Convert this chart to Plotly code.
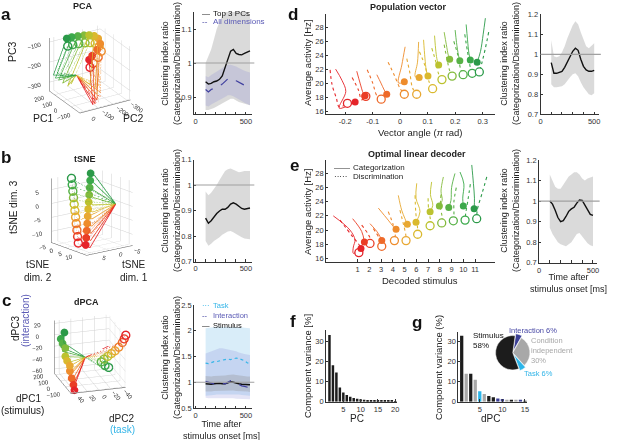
import plotly.graph_objects as go

FONT = "Liberation Sans, Arial, sans-serif"
W, H = 617, 440

# ---------------- data ----------------
stim_colors = ['#e5242a', '#ea3d26', '#ee6a2a', '#ee8c2c', '#e8a832', '#dab92e',
               '#bcc22f', '#84bb3d', '#57b147', '#3ba94b', '#2b9a49']

# ratio time courses
t_abc = [100, 128, 155, 183, 210, 238, 265, 293, 320, 348, 375, 403, 430, 458, 485, 513, 540]
a_top3 = [0.945, 0.938, 0.940, 0.945, 0.947, 0.952, 0.962, 0.985, 1.012, 1.035, 1.040, 1.028, 1.025, 1.024, 1.028, 1.032, 1.036]
a_top3_lo = [0.862, 0.862, 0.865, 0.868, 0.872, 0.876, 0.880, 0.885, 0.890, 0.895, 0.895, 0.890, 0.885, 0.882, 0.880, 0.878, 0.876]
a_top3_hi = [1.000, 1.020, 1.040, 1.070, 1.100, 1.120, 1.140, 1.150, 1.150, 1.150, 1.150, 1.150, 1.150, 1.150, 1.150, 1.150, 1.140]
a_all = [0.922, 0.915, 0.922, 0.925, 0.928, 0.932, 0.938, 0.945, 0.953, 0.955, 0.953, 0.948, 0.943, 0.938, 0.934, 0.930, 0.928]
a_all_lo = [0.875, 0.872, 0.878, 0.882, 0.886, 0.890, 0.895, 0.900, 0.905, 0.905, 0.902, 0.898, 0.893, 0.888, 0.883, 0.879, 0.876]
a_all_hi = [0.962, 0.958, 0.965, 0.970, 0.975, 0.980, 0.985, 0.990, 0.995, 0.995, 0.993, 0.990, 0.985, 0.980, 0.977, 0.974, 0.972]

b_mean = [0.870, 0.850, 0.860, 0.875, 0.888, 0.898, 0.905, 0.905, 0.912, 0.925, 0.930, 0.925, 0.915, 0.908, 0.905, 0.907, 0.910]
b_lo = [0.780, 0.762, 0.770, 0.780, 0.788, 0.795, 0.805, 0.812, 0.818, 0.820, 0.815, 0.808, 0.800, 0.795, 0.790, 0.788, 0.787]
b_hi = [0.975, 0.960, 0.970, 0.985, 1.000, 1.020, 1.040, 1.055, 1.062, 1.065, 1.060, 1.055, 1.050, 1.052, 1.055, 1.055, 1.055]

c_task = [1.37, 1.36, 1.38, 1.40, 1.40, 1.42, 1.43, 1.44, 1.45, 1.44, 1.46, 1.47, 1.46, 1.44, 1.42, 1.38, 1.35]
c_task_lo = [0.74, 0.74, 0.75, 0.75, 0.76, 0.76, 0.76, 0.77, 0.77, 0.77, 0.77, 0.76, 0.76, 0.75, 0.75, 0.74, 0.74]
c_task_hi = [2.05, 2.06, 2.07, 2.08, 2.08, 2.08, 2.08, 2.08, 2.08, 2.08, 2.08, 2.08, 2.07, 2.07, 2.06, 2.06, 2.05]
c_inter = [1.02, 1.00, 0.98, 0.97, 0.99, 1.00, 0.98, 0.97, 1.00, 1.03, 1.01, 0.98, 0.95, 0.93, 0.92, 0.90, 0.89]
c_inter_lo = [0.70, 0.69, 0.68, 0.68, 0.68, 0.69, 0.69, 0.68, 0.68, 0.69, 0.69, 0.68, 0.68, 0.67, 0.67, 0.67, 0.67]
c_inter_hi = [1.56, 1.58, 1.60, 1.62, 1.64, 1.66, 1.66, 1.65, 1.64, 1.63, 1.62, 1.60, 1.58, 1.56, 1.55, 1.54, 1.53]
c_stim = [0.97, 0.96, 0.96, 0.97, 0.98, 0.98, 0.97, 0.97, 0.99, 1.01, 1.00, 0.98, 0.97, 0.96, 0.96, 0.955, 0.95]
c_stim_lo = [0.82, 0.82, 0.82, 0.83, 0.83, 0.83, 0.83, 0.83, 0.84, 0.84, 0.84, 0.83, 0.83, 0.82, 0.82, 0.82, 0.81]
c_stim_hi = [1.12, 1.11, 1.11, 1.12, 1.12, 1.13, 1.13, 1.13, 1.14, 1.15, 1.15, 1.14, 1.13, 1.12, 1.12, 1.11, 1.11]

t_de = [100, 125, 150, 175, 200, 225, 250, 275, 300, 325, 350, 375, 400, 425, 450, 475, 500]
d_mean = [0.958, 0.905, 0.905, 0.910, 0.915, 0.935, 0.960, 0.985, 1.015, 1.030, 1.020, 0.975, 0.940, 0.922, 0.915, 0.915, 0.920]
d_lo = [0.850, 0.835, 0.835, 0.837, 0.840, 0.850, 0.865, 0.885, 0.900, 0.905, 0.890, 0.860, 0.835, 0.815, 0.800, 0.795, 0.805]
d_hi = [1.070, 0.990, 0.985, 0.990, 1.010, 1.040, 1.080, 1.115, 1.145, 1.165, 1.150, 1.110, 1.070, 1.040, 1.030, 1.045, 1.055]
e_mean = [1.000, 0.985, 0.955, 0.920, 0.900, 0.905, 0.925, 0.950, 0.962, 0.970, 0.990, 1.005, 1.003, 0.980, 0.955, 0.935, 0.930]
e_lo = [0.870, 0.840, 0.820, 0.800, 0.790, 0.785, 0.780, 0.790, 0.800, 0.820, 0.840, 0.845, 0.830, 0.810, 0.795, 0.785, 0.780]
e_hi = [1.130, 1.100, 1.070, 1.060, 1.060, 1.080, 1.100, 1.120, 1.130, 1.140, 1.140, 1.130, 1.110, 1.100, 1.110, 1.115, 1.120]
ref_level = 1.0

# panel d: population vector trajectories (angle, activity)
d_cat_x = [[-0.235, -0.212, -0.198, -0.222, -0.164], [-0.158, -0.146, -0.134, -0.128],
           [-0.085, -0.070, -0.058, -0.049], [0.018, 0.006, -0.006, 0.015],
           [0.067, 0.063, 0.055, 0.069], [0.085, 0.090, 0.095, 0.101],
           [0.125, 0.130, 0.135, 0.140], [0.160, 0.168, 0.175, 0.180],
           [0.200, 0.205, 0.212, 0.217], [0.240, 0.245, 0.250, 0.255],
           [0.310, 0.302, 0.292, 0.280]]
d_cat_y = [[22.0, 20.4, 18.8, 16.4, 17.3], [21.7, 20.0, 18.5, 18.2], [21.2, 20.0, 19.0, 18.4],
           [25.2, 22.6, 20.0, 20.2], [25.9, 23.0, 20.9, 20.8], [26.2, 23.6, 21.8, 21.0],
           [26.8, 24.5, 23.2, 22.6], [27.3, 25.5, 24.0, 23.4], [27.6, 25.8, 24.0, 23.2],
           [28.4, 26.2, 24.3, 23.3], [29.3, 27.0, 24.5, 23.0]]
d_dis_x = [[-0.255, -0.248, -0.232, -0.222, -0.192], [-0.175, -0.152, -0.140, -0.125],
           [-0.120, -0.100, -0.085, -0.069], [-0.044, -0.020, 0.000, 0.015],
           [0.024, 0.035, 0.045, 0.060], [0.070, 0.090, 0.105, 0.118],
           [0.115, 0.130, 0.140, 0.152], [0.160, 0.170, 0.180, 0.189],
           [0.195, 0.210, 0.220, 0.229], [0.235, 0.245, 0.255, 0.262],
           [0.322, 0.310, 0.298, 0.288]]
d_dis_y = [[21.9, 19.8, 17.8, 16.6, 17.1], [20.8, 19.0, 17.6, 18.1], [21.9, 20.0, 18.2, 17.7],
           [23.0, 21.0, 19.2, 18.4], [23.5, 21.5, 19.3, 18.4], [24.5, 22.5, 20.2, 19.2],
           [25.0, 23.0, 21.3, 20.5], [25.5, 23.5, 21.8, 21.0], [26.0, 24.0, 22.0, 21.2],
           [27.0, 24.5, 22.3, 21.4], [27.3, 25.0, 23.0, 21.6]]

# panel e: optimal linear decoder trajectories (decoded stimulus, activity)
e_cat_x = [[-1.08, 0.34, 0.77, 0.63, 0.63, 1.28], [0.57, 1.34, 1.57], [2.05, 2.76, 3.05],
           [2.76, 3.60, 4.03, 4.27], [4.46, 4.75, 5.03, 5.23], [6.03, 5.97, 6.31, 5.97],
           [7.30, 7.20, 7.40, 7.17], [8.30, 8.10, 8.20, 7.96], [9.29, 9.00, 8.95, 8.76],
           [9.72, 10.05, 9.95, 10.00], [10.72, 10.86, 10.95, 10.92]]
e_cat_y = [[22.0, 20.0, 18.6, 17.6, 16.7, 17.4], [21.6, 19.8, 18.3], [20.9, 19.5, 18.5],
           [23.1, 21.4, 20.5, 20.1], [24.9, 22.8, 21.6, 20.8], [26.6, 24.5, 22.6, 21.1],
           [26.8, 25.0, 23.5, 22.6], [27.5, 25.5, 24.2, 23.4], [28.0, 26.0, 24.2, 23.2],
           [28.2, 26.5, 24.5, 23.4], [29.2, 26.6, 24.5, 23.0]]
e_dis_x = [[-0.51, 0.50, 1.20, 1.10], [1.34, 1.90, 2.10, 2.05], [2.34, 2.80, 3.10, 3.05],
           [3.60, 4.03, 4.20, 4.13], [4.60, 4.90, 5.10, 5.12], [5.89, 5.95, 6.10, 6.11],
           [7.00, 7.05, 7.20, 7.17], [8.10, 8.05, 8.20, 8.16], [9.40, 9.20, 9.20, 9.15],
           [10.60, 10.40, 10.20, 10.15], [12.00, 11.60, 11.20, 11.14]]
e_dis_y = [[21.4, 19.2, 17.6, 16.8], [20.7, 19.4, 18.6, 18.1], [20.2, 19.0, 18.2, 17.7],
           [22.6, 20.7, 19.2, 18.5], [22.8, 20.8, 19.3, 18.5], [24.9, 22.5, 20.3, 19.4],
           [24.5, 22.8, 21.4, 20.6], [25.0, 23.2, 21.8, 21.0], [26.0, 24.0, 22.2, 21.3],
           [26.5, 24.3, 22.3, 21.4], [27.5, 25.2, 22.9, 21.6]]

# 3D state-space trajectories: common start, per-stimulus dip and end (x, y, z)
pca_start = [119, -76, -243]
pca_cat_dip = [[-62, -88, -340], [-68, -99, -336], [-75, -109, -314], [-75, -109, -289], [-68, -99, -258],
               [-20, -91, -251], [179, -49, -311], [195, -23, -296], [208, -3, -281], [218, 13, -271], [225, 23, -256]]
pca_cat_end = [[158, -185, -198], [156, -205, -181], [147, -235, -154], [145, -255, -127], [191, -267, -117],
               [205, -247, -104], [221, -221, -100], [237, -195, -101], [233, -150, -95], [237, -110, -94], [238, -76, -95]]
pca_dis_dip = [[-77, -103, -328], [-83, -114, -324], [-90, -124, -302], [-90, -124, -277], [-83, -114, -246],
               [-35, -106, -239], [164, -64, -299], [180, -38, -284], [193, -18, -269], [203, -2, -259], [210, 8, -244]]
pca_dis_end = [[148, -185, -233], [146, -205, -216], [137, -235, -189], [135, -255, -162], [181, -267, -152],
               [195, -247, -139], [211, -221, -135], [227, -195, -136], [223, -150, -130], [227, -110, -129], [228, -76, -130]]

ts_start = [-3.6, 8.8, 1.0]
ts_cat_dip = [[4.7, 9.6, -12.4], [3.7, 8.1, -10.4], [2.8, 6.6, -8.4], [1.8, 5.2, -6.4], [0.9, 3.7, -4.4],
              [-0.1, 2.2, -2.5], [-1.0, 0.7, -0.5], [-2.0, -0.8, 1.5], [-2.9, -2.3, 3.5], [-3.8, -3.8, 5.5], [-4.8, -5.2, 7.5]]
ts_cat_end = [[5.47, 8.6, -11.4], [4.53, 7.12, -9.41], [3.58, 5.63, -7.42], [2.64, 4.15, -5.43], [1.69, 2.66, -3.44],
              [0.74, 1.18, -1.45], [-0.20, -0.30, 0.54], [-1.15, -1.79, 2.53], [-2.09, -3.27, 4.52], [-3.04, -4.76, 6.51], [-3.98, -6.24, 8.5]]
ts_dis_dip = [[6.1, 8.0, -11.7], [5.6, 6.5, -9.9], [5.0, 5.0, -8.0], [4.4, 3.5, -6.2], [3.8, 2.0, -4.4],
              [3.2, 0.6, -2.5], [2.6, -0.9, -0.7], [2.0, -2.4, 1.1], [1.4, -3.9, 2.9], [0.8, -5.4, 4.8], [0.2, -6.9, 6.6]]
ts_dis_end = [[6.94, 7.0, -10.7], [6.35, 5.51, -8.87], [5.75, 4.02, -7.04], [5.16, 2.53, -5.21], [4.56, 1.04, -3.38],
              [3.97, -0.45, -1.55], [3.38, -1.94, 0.28], [2.78, -3.43, 2.11], [2.19, -4.92, 3.94], [1.59, -6.41, 5.77], [1.0, -7.9, 7.6]]

dp_start = [146, 1.5, -37]
dp_cat_dip = [[-40, 38, -68], [-25, 38, -66], [10, 38, -62], [45, 38, -56], [45, 38, -50], [95, 38, -46],
              [130, 38, -42], [130, 38, -30], [180, 38, -26], [205, 38, -22], [150, 38, -8]]
dp_cat_end = [[-68, 38.7, -67.5], [-49, 38.7, -60], [-13, 38.7, -52.5], [23, 38.7, -43.5], [23, 38.7, -34], [78, 38.7, -31.5],
              [114, 38.7, -27.4], [114, 38.7, -13], [169, 38.7, -10.7], [205, 38.7, -6.5], [132, 38.7, 12.5]]
dp_dis_dip = [[-80, -38, 12], [-60, -37, 4], [-40, -36, -4], [-15, -33, -12], [10, -30, -20], [35, -27, -26],
              [55, -23, -33], [80, -20, -40], [105, -17, -46], [135, -24, -56], [160, -32, -63]]
dp_dis_end = [[-110, -45, 24], [-85, -44.4, 15], [-60, -43.4, 6], [-36, -39.2, -4.3], [-11, -35, -12.9], [14, -31, -19.9],
              [38, -26.9, -26.9], [63, -22.7, -33.9], [88, -20.1, -41.1], [121, -29.2, -52.2], [154, -38.3, -60]]

# bars and pie
f_pc = list(range(1, 21))
f_var = [33, 18, 14.5, 7, 4.5, 3.3, 2.4, 1.8, 1.4, 1.2, 1.0, 0.9, 0.8, 0.7, 0.6, 0.5, 0.45, 0.4, 0.35, 0.3]
g_dpc = list(range(1, 16))
g_var = [33, 14, 14, 11, 5.2, 3.8, 2.8, 2.2, 1.6, 1.4, 1.0, 0.9, 0.8, 0.6, 0.5]
g_comp = ['Stimulus', 'Condition independent', 'Stimulus', 'Condition independent', 'Task',
          'Condition independent', 'Stimulus', 'Stimulus', 'Interaction', 'Interaction',
          'Condition independent', 'Stimulus', 'Condition independent', 'Interaction', 'Stimulus']
pie_labels = ['Interaction', 'Condition independent', 'Task', 'Stimulus']
pie_values = [6, 30, 6, 58]
comp_colors = {'Interaction': '#3b3f95', 'Condition independent': '#a8a8a8', 'Task': '#2cb6ea', 'Stimulus': '#1c1c1c'}

NAVY = '#3f3f9f'
CYAN = '#33b5e8'

# ---------------- figure ----------------
fig = go.Figure()


def dx(a, b):
    return [a / W, b / W]


def dy(top, bottom):
    return [1 - bottom / H, 1 - top / H]


def band(t, lo, hi, color, ax):
    fig.add_trace(go.Scatter(x=t + t[::-1], y=hi + lo[::-1], fill='toself', fillcolor=color,
                             line=dict(width=0), mode='lines', hoverinfo='skip', showlegend=False,
                             xaxis=ax[0], yaxis=ax[1]))


def line(t, v, color, dash, ax, width=1.4):
    fig.add_trace(go.Scatter(x=t, y=v, mode='lines', line=dict(color=color, width=width, dash=dash),
                             showlegend=False, xaxis=ax[0], yaxis=ax[1]))


GRAY_BAND = 'rgba(150,150,150,0.35)'
LAV_BAND = 'rgba(120,120,210,0.20)'
CYAN_BAND = 'rgba(120,190,235,0.28)'

band(t_abc, a_top3_lo, a_top3_hi, GRAY_BAND, ('x', 'y'))
band(t_abc, a_all_lo, a_all_hi, LAV_BAND, ('x', 'y'))
line(t_abc, a_top3, '#111', 'solid', ('x', 'y'))
line(t_abc, a_all, NAVY, 'dash', ('x', 'y'), 1.2)
band(t_abc, b_lo, b_hi, GRAY_BAND, ('x2', 'y2'))
line(t_abc, b_mean, '#111', 'solid', ('x2', 'y2'))
band(t_abc, c_task_lo, c_task_hi, CYAN_BAND, ('x3', 'y3'))
band(t_abc, c_inter_lo, c_inter_hi, LAV_BAND, ('x3', 'y3'))
band(t_abc, c_stim_lo, c_stim_hi, GRAY_BAND, ('x3', 'y3'))
line(t_abc, c_task, CYAN, 'dot', ('x3', 'y3'), 1.2)
line(t_abc, c_stim, '#111', 'solid', ('x3', 'y3'))
line(t_abc, c_inter, NAVY, 'dash', ('x3', 'y3'), 1.2)
band(t_de, d_lo, d_hi, GRAY_BAND, ('x5', 'y5'))
line(t_de, d_mean, '#111', 'solid', ('x5', 'y5'))
band(t_de, e_lo, e_hi, GRAY_BAND, ('x7', 'y7'))
line(t_de, e_mean, '#111', 'solid', ('x7', 'y7'))


def traj2d(xs_cat, ys_cat, xs_dis, ys_dis, ax):
    for i in range(11):
        c = stim_colors[i]
        fig.add_trace(go.Scatter(x=xs_dis[i], y=ys_dis[i], mode='lines', line=dict(color=c, width=1.1, dash='dot', shape='spline'),
                                 showlegend=False, xaxis=ax[0], yaxis=ax[1]))
        fig.add_trace(go.Scatter(x=xs_cat[i], y=ys_cat[i], mode='lines', line=dict(color=c, width=0.9, shape='spline'),
                                 showlegend=False, xaxis=ax[0], yaxis=ax[1]))
    for i in range(11):
        c = stim_colors[i]
        fig.add_trace(go.Scatter(x=[xs_dis[i][-1]], y=[ys_dis[i][-1]], mode='markers',
                                 marker=dict(symbol='circle', size=8, color='white', line=dict(color=c, width=1.3)),
                                 showlegend=False, xaxis=ax[0], yaxis=ax[1]))
        fig.add_trace(go.Scatter(x=[xs_cat[i][-1]], y=[ys_cat[i][-1]], mode='markers',
                                 marker=dict(symbol='circle', size=7, color=c, line=dict(width=0)),
                                 showlegend=False, xaxis=ax[0], yaxis=ax[1]))


traj2d(d_cat_x, d_cat_y, d_dis_x, d_dis_y, ('x4', 'y4'))
traj2d(e_cat_x, e_cat_y, e_dis_x, e_dis_y, ('x6', 'y6'))

fig.add_trace(go.Bar(x=f_pc, y=f_var, marker=dict(color='#1c1c1c', line=dict(width=0)), width=0.72,
                     showlegend=False, xaxis='x8', yaxis='y8'))
fig.add_trace(go.Bar(x=g_dpc, y=g_var, marker=dict(color=[comp_colors[c] for c in g_comp], line=dict(width=0)),
                     width=0.72, showlegend=False, xaxis='x9', yaxis='y9'))
fig.add_trace(go.Pie(labels=pie_labels, values=pie_values, sort=False, direction='clockwise', rotation=8,
                     marker=dict(colors=[comp_colors[l] for l in pie_labels], line=dict(color='white', width=0.5)),
                     pull=[0.12, 0, 0.12, 0], textinfo='none', showlegend=False,
                     domain=dict(x=dx(493.5, 532), y=dy(333.5, 372))))


def traj3d(start, cat_dip, cat_end, dis_dip, dis_end, scene):
    for i in range(11):
        c = stim_colors[i]
        for dip, end, dash in ((dis_dip, dis_end, 'dot'), (cat_dip, cat_end, 'solid')):
            fig.add_trace(go.Scatter3d(x=[start[0], dip[i][0], end[i][0]], y=[start[1], dip[i][1], end[i][1]],
                                       z=[start[2], dip[i][2], end[i][2]], mode='lines',
                                       line=dict(color=c, width=1.5, dash=dash), showlegend=False, scene=scene,
                                       hoverinfo='skip'))
    for i in range(11):
        c = stim_colors[i]
        fig.add_trace(go.Scatter3d(x=[dis_end[i][0]], y=[dis_end[i][1]], z=[dis_end[i][2]], mode='markers',
                                   marker=dict(symbol='circle-open', size=5, color=c, line=dict(width=1.6, color=c)),
                                   showlegend=False, scene=scene))
        fig.add_trace(go.Scatter3d(x=[cat_end[i][0]], y=[cat_end[i][1]], z=[cat_end[i][2]], mode='markers',
                                   marker=dict(symbol='circle', size=4.5, color=c, line=dict(width=0, color=c)),
                                   showlegend=False, scene=scene))


traj3d(pca_start, pca_cat_dip, pca_cat_end, pca_dis_dip, pca_dis_end, 'scene')
traj3d(ts_start, ts_cat_dip, ts_cat_end, ts_dis_dip, ts_dis_end, 'scene2')
traj3d(dp_start, dp_cat_dip, dp_cat_end, dp_dis_dip, dp_dis_end, 'scene3')

# ---------------- layout ----------------
TICKF = dict(family=FONT, size=7.5, color='#333')


def ax2(domain, rng, tickvals, ticktext=None):
    d = dict(domain=domain, range=rng, showline=True, linecolor='#333', linewidth=0.8, ticks='inside',
             ticklen=2.5, tickcolor='#333', tickwidth=0.8, showgrid=False, zeroline=False, tickfont=TICKF,
             tickvals=tickvals, fixedrange=True)
    if ticktext is not None:
        d['ticktext'] = ticktext
    return d


t_ticks = [0, 100, 200, 300, 400, 500]
t_text = ['0', '', '', '', '', '500']
layout = dict(width=W, height=H, margin=dict(l=0, r=0, t=0, b=0, autoexpand=False), paper_bgcolor='white',
              plot_bgcolor='rgba(0,0,0,0)', font=dict(family=FONT, size=9, color='#222'), bargap=0.2)

layout['xaxis'] = ax2(dx(194, 252), [-15, 560], t_ticks, t_text)
layout['yaxis'] = ax2(dy(12, 114), [0.85, 1.15], [0.9, 1, 1.1], ['0.9', '1', '1.1'])
layout['xaxis2'] = ax2(dx(194, 252), [-15, 560], t_ticks, t_text)
layout['yaxis2'] = ax2(dy(159.5, 261.5), [0.7, 1.1], [0.7, 0.8, 0.9, 1, 1.1], ['0.7', '0.8', '0.9', '1', '1.1'])
layout['xaxis3'] = ax2(dx(194, 252), [-15, 560], t_ticks, t_text)
layout['yaxis3'] = ax2(dy(305, 408), [0.5, 2.5], [0.5, 1, 1.5, 2, 2.5], ['0.5', '1', '1.5', '2', '2.5'])
layout['xaxis4'] = ax2(dx(326, 495), [-0.27, 0.345], [-0.2, -0.1, 0, 0.1, 0.2, 0.3], ['-0.2', '-0.1', '0', '0.1', '0.2', '0.3'])
layout['yaxis4'] = ax2(dy(14, 114), [15.57, 29.9], [16, 18, 20, 22, 24, 26, 28])
layout['xaxis5'] = ax2(dx(540.5, 598.5), [0, 540], t_ticks, t_text)
layout['yaxis5'] = ax2(dy(14.3, 114.3), [0.7, 1.2], [0.7, 0.8, 0.9, 1, 1.1, 1.2], ['0.7', '0.8', '0.9', '1', '1.1', '1.2'])
layout['xaxis6'] = ax2(dx(326, 495), [-1.7, 12.7], list(range(1, 12)))
layout['yaxis6'] = ax2(dy(160, 261.7), [15.52, 29.9], [16, 18, 20, 22, 24, 26, 28])
layout['xaxis7'] = ax2(dx(539, 597.3), [0, 540], t_ticks, t_text)
layout['yaxis7'] = ax2(dy(160, 262.7), [0.7, 1.2], [0.7, 0.8, 0.9, 1, 1.1, 1.2], ['0.7', '0.8', '0.9', '1', '1.1', '1.2'])
layout['xaxis8'] = ax2(dx(326, 397), [0, 20.5], [5, 10, 15, 20])
layout['yaxis8'] = ax2(dy(330, 401.7), [0, 35.5], [0, 10, 20, 30])
layout['xaxis9'] = ax2(dx(458.3, 527), [0.25, 15.45], [5, 10, 15])
layout['yaxis9'] = ax2(dy(331.7, 401.7), [0, 35], [0, 10, 20, 30])
for i in range(1, 10):
    k = '' if i == 1 else str(i)
    layout['xaxis' + k]['anchor'] = 'y' + k
    layout['yaxis' + k]['anchor'] = 'x' + k


def ax3(rng, tickvals):
    return dict(range=rng, tickvals=tickvals, showbackground=False, gridcolor='#d2d2d2', gridwidth=1,
                showline=True, linecolor='#555', zeroline=False, showspikes=False, ticks='',
                tickfont=dict(family=FONT, size=8.5, color='#333'), title=dict(text=''))


layout['scene'] = dict(domain=dict(x=dx(25, 155), y=dy(10, 128)), aspectmode='cube',
                       xaxis=ax3([-110, 260], [-100, 0, 100, 200]),
                       yaxis=ax3([-320, 30], [-300, -200, -100, 0]),
                       zaxis=ax3([-345, -80], [-300, -200, -100]),
                       camera=dict(eye=dict(x=-1.55, y=0.93, z=0.87), projection=dict(type='orthographic')))
layout['scene2'] = dict(domain=dict(x=dx(27, 157), y=dy(154, 270)), aspectmode='manual',
                        aspectratio=dict(x=1, y=1, z=1.15),
                        xaxis=ax3([-7, 7], [-5, 0, 5]),
                        yaxis=ax3([-8, 12], [-5, 0, 5, 10]),
                        zaxis=ax3([-14, 9], [-10, -5, 0, 5]),
                        camera=dict(eye=dict(x=1.15, y=1.5, z=0.55), projection=dict(type='orthographic')))
layout['scene3'] = dict(domain=dict(x=dx(25, 155), y=dy(296.6, 410.6)), aspectmode='cube',
                        xaxis=ax3([-110, 220], [-100, 0, 100, 200]),
                        yaxis=ax3([-45, 48], [-40, -20, 0, 20, 40]),
                        zaxis=ax3([-68, 25], [-60, -40, -20, 0, 20]),
                        camera=dict(eye=dict(x=-1.98, y=0.6, z=0.82), projection=dict(type='orthographic')))

shapes = []
for k in ['', '2', '3', '5', '7']:
    shapes.append(dict(type='line', xref='x' + k + ' domain', x0=0, x1=1.04, yref='y' + k, y0=ref_level, y1=ref_level,
                       line=dict(color='#a0a0a0', width=1.2), layer='above'))
layout['shapes'] = shapes

ann = []


def A(x, y, text, size=9, color='#222', angle=0, xanchor='center', yanchor='middle', bold=False):
    if bold:
        text = '<b>' + text + '</b>'
    ann.append(dict(x=x / W, y=1 - y / H, xref='paper', yref='paper', text=text, showarrow=False,
                    font=dict(family=FONT, size=size, color=color), textangle=angle,
                    xanchor=xanchor, yanchor=yanchor, align='left' if xanchor == 'left' else 'center'))


for letter, x, y in [('a', 6, 15), ('b', 6, 157), ('c', 6, 300), ('d', 293, 14), ('e', 294, 165),
                     ('f', 293, 321), ('g', 417, 322)]:
    A(x, y, letter, size=17, color='#111', bold=True)
A(83, 6, 'PCA', 9, bold=True)
A(85, 159, 'tSNE', 9, bold=True)
A(86, 302, 'dPCA', 9, bold=True)
A(408, 7, 'Population vector', 9, bold=True)
A(417, 154, 'Optimal linear decoder', 9, bold=True)

YL = 'Clustering index ratio<br>(Categorization/Discrimination)'
for x, y in [(171, 63), (171, 210), (171, 357), (510, 64), (510, 211)]:
    A(x, y, YL, 9, angle=-90)
A(221, 429.5, 'Time after<br>stimulus onset [ms]', 9)
A(568, 283, 'Time after<br>stimulus onset [ms]', 9)

A(200, 13.5, '—', 8, '#111', xanchor='left')
A(211, 13.5, 'Top 3 PCs', 8, '#111', xanchor='left')
A(200, 21.5, '--', 8, NAVY, xanchor='left')
A(211, 21.5, 'All dimensions', 8, '#5a5ab5', xanchor='left')
A(200, 315.5, '<span style="color:%s">···</span><br><span style="color:%s">--</span><br>'
              '<span style="color:#111">—</span>' % (CYAN, NAVY), 7.5, xanchor='left')
A(211, 315.5, '<span style="color:%s">Task</span><br><span style="color:#5a5ab5">Interaction</span><br>'
              '<span style="color:#111">Stimulus</span>' % CYAN, 7.5, xanchor='left')

A(307, 63, 'Average activity [Hz]', 9.5, angle=-90)
A(420, 132, 'Vector angle (<i>π</i> rad)', 9.5)
A(307, 212, 'Average activity [Hz]', 9.5, angle=-90)
A(420, 280, 'Decoded stimulus', 9.5)
A(332, 167.5, '——', 8, '#222', xanchor='left')
A(351, 167.5, 'Categorization', 8, '#222', xanchor='left')
A(332, 176, '·····', 8, '#222', xanchor='left')
A(351, 176, 'Discrimination', 8, '#222', xanchor='left')

A(307, 366, 'Component variance [%]', 9.5, angle=-90)
A(357, 418, 'PC', 10)
A(438, 368, 'Component variance (%)', 9.5, angle=-90)
A(490, 418, 'dPC', 10)
A(470.5, 340, 'Stimulus<br>58%', 8, '#111', xanchor='left')
A(506.5, 330, 'Interaction 6%', 7.5, '#4a4aa6', xanchor='left')
A(529, 350.5, 'Condition<br>independent<br>30%', 7.5, '#a8a8a8', xanchor='left')
A(521.5, 373.5, 'Task 6%', 7.5, CYAN, xanchor='left')

A(12, 52, 'PC3', 10.5, angle=-90)
A(43, 118, 'PC1', 10.5)
A(133, 118, 'PC2', 10.5)
A(13, 207, 'tSNE dim. 3', 10, angle=-90)
A(38, 271, 'tSNE<br>dim. 2', 10)
A(134, 271, 'tSNE<br>dim. 1', 10)
A(15, 329, 'dPC3', 10, angle=-90)
A(25, 321, '(interaction)', 10, '#5a5ab5', angle=-90)
A(28, 398, 'dPC1', 10)
A(22, 410, '(stimulus)', 10)
A(121, 418, 'dPC2', 10)
A(122, 429, '(task)', 10, CYAN)

layout['annotations'] = ann
fig.update_layout(**layout)
fig.write_html('out.html', config={'displayModeBar': False},
               post_script="document.body.style.margin='0px';")
